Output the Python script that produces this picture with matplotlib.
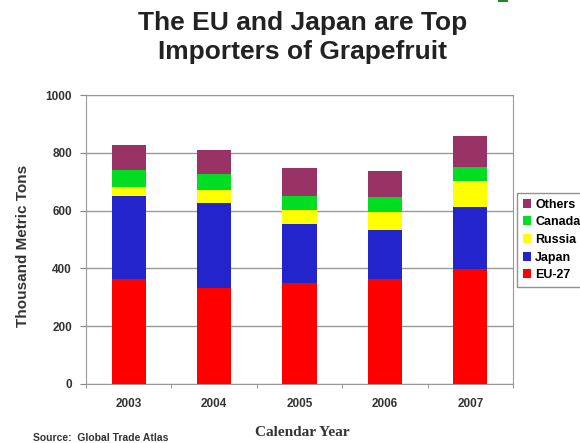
import matplotlib.pyplot as plt
import numpy as np

years = ['2003', '2004', '2005', '2006', '2007']
series = ['EU-27', 'Japan', 'Russia', 'Canada', 'Others']
eu = [363, 333, 349, 363, 397]
japan = [286, 295, 205, 170, 217]
russia = [32, 42, 49, 62, 88]
canada = [58, 57, 49, 52, 49]
others = [87, 84, 96, 90, 106]
colors = ['#ff0000', '#2424cc', '#ffff00', '#00dd22', '#993366']

plt.rcParams['font.family'] = ['Liberation Sans', 'DejaVu Sans']

W, H = 580, 443
fig = plt.figure(figsize=(W / 100, H / 100), dpi=100)
ax = fig.add_axes([86 / W, 1 - 384 / H, 427 / W, 289 / H])

x = np.arange(len(years))
bottom = np.zeros(len(years))
for vals, name, c in zip([eu, japan, russia, canada, others], series, colors):
    ax.bar(x, vals, 0.4, bottom=bottom, color=c, label=name, zorder=3)
    bottom += np.array(vals)

ax.set_xlim(-0.5, 4.5)
ax.set_ylim(0, 1000)
ax.set_yticks(range(0, 1001, 200))
ax.set_xticks(x)
ax.set_xticklabels(years, fontsize=8.5, fontweight='bold', color='#333333')
ax.tick_params(axis='y', labelsize=8.5, length=4, color='#888888', pad=6, labelcolor='#333333')
for t in ax.get_yticklabels():
    t.set_fontweight('bold')
ax.tick_params(axis='x', length=0, pad=10)
ax.set_xticks(np.arange(-0.5, 5, 1), minor=True)
ax.tick_params(axis='x', which='minor', length=3, color='#888888')
ax.grid(axis='y', color='#999999', linewidth=1, zorder=0)
for s in ax.spines.values():
    s.set_color('#999999')

fig.text(23 / W, 1 - 246 / H, 'Thousand Metric Tons', rotation=90, ha='center', va='center',
         fontsize=11, fontweight='bold', color='#333333')

h, l = ax.get_legend_handles_labels()
ax.legend(h[::-1], l[::-1], loc='upper left', bbox_to_anchor=(517 / W, 1 - 193 / H),
          bbox_transform=fig.transFigure, frameon=True, fancybox=False, edgecolor='#777777',
          handlelength=0.7, handleheight=0.7, handletextpad=0.3,
          borderpad=0.45, labelspacing=0.45, borderaxespad=0,
          prop={'weight': 'bold', 'size': 9})

fig.text(303 / W, 1 - 11 / H, 'The EU and Japan are Top\nImporters of Grapefruit', ha='center', va='top',
         fontsize=19, fontweight='bold', color='#222222', linespacing=1.25)
fig.text(302 / W, 1 - 432 / H, 'Calendar Year', ha='center', va='center', fontsize=11,
         fontweight='bold', family='Liberation Serif', color='#333333')
fig.text(33 / W, 1 - 438 / H, 'Source:  Global Trade Atlas', ha='left', va='center', fontsize=7.5,
         fontweight='bold', color='#333333')
fig.add_artist(plt.Line2D([499 / W, 507 / W], [1 - 1 / H, 1 - 1 / H], color='#228822', linewidth=1.5))

fig.savefig('out.png', dpi=100)
